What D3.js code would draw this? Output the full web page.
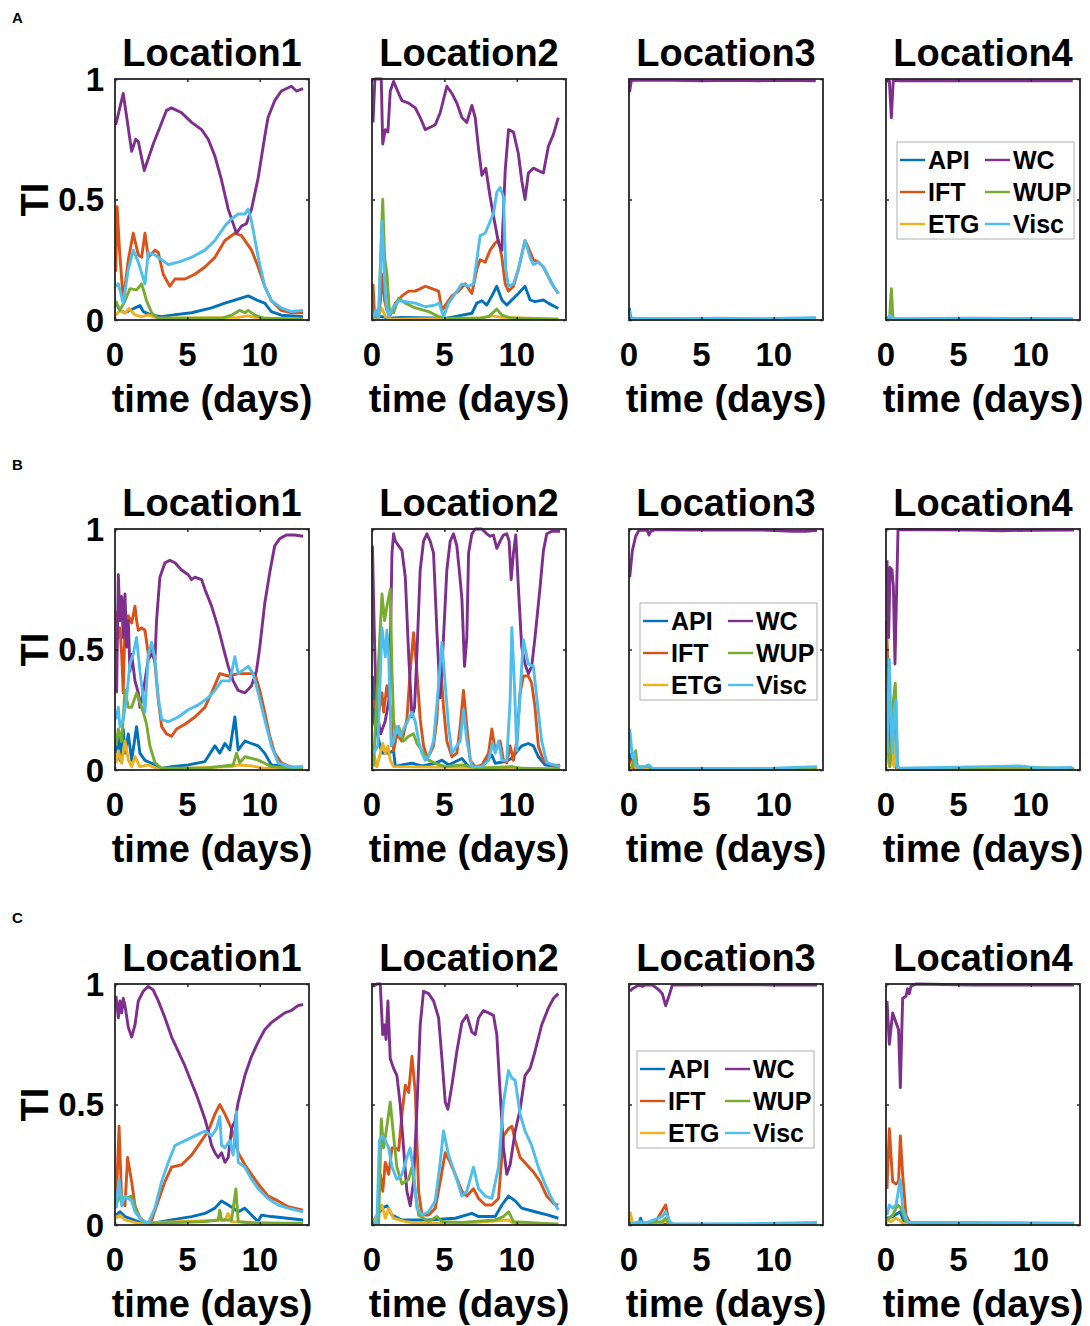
<!DOCTYPE html>
<html>
<head>
<meta charset="utf-8">
<script src="https://cdn.jsdelivr.net/npm/d3@7"></script>
<style>
  html, body { margin: 0; padding: 0; background: #fff; }
  svg { display: block; font-family: "Liberation Sans", Arial, Helvetica, sans-serif; font-weight: bold; }
</style>
</head>
<body>
<svg id="chart" width="1090" height="1326"></svg>
<script>
// ---------- labels / categories ----------
const rowLabels = ["A", "B", "C"];
const locations = ["Location1", "Location2", "Location3", "Location4"];
const seriesNames = ["API", "IFT", "ETG", "WC", "WUP", "Visc"];
const xTicks = [0, 5, 10];
const yTicks = [0, 0.5, 1];
const yTickLabels = ["0", "0.5", "1"];
const xLabel = "time (days)";
const yLabel = "TI";

// ---------- data: [day, TI] ----------
// Row A
const A1_API = [[0.05,0.07],[0.34,0.04],[0.69,0.03],[1.03,0.04],[1.72,0.06],[1.95,0.035],[2.53,0.02],[3.22,0.014],[3.91,0.02],[5.29,0.03],[6.67,0.05],[7.59,0.07],[8.16,0.08],[9.2,0.1],[9.89,0.08],[10.34,0.07],[10.8,0.035],[11.49,0.02],[12.99,0.014]];
const A1_IFT = [[0.05,0.2],[0.15,0.47],[0.3,0.3],[0.57,0.08],[0.92,0.25],[1.26,0.36],[1.61,0.27],[1.84,0.26],[2.07,0.36],[2.3,0.26],[2.76,0.29],[2.99,0.28],[3.33,0.19],[3.79,0.14],[4.14,0.17],[4.83,0.17],[5.52,0.19],[6.21,0.22],[6.9,0.26],[7.59,0.33],[8.28,0.36],[8.74,0.35],[9.43,0.29],[9.89,0.22],[10.34,0.14],[10.8,0.08],[11.49,0.04],[12.18,0.03],[12.99,0.03]];
const A1_ETG = [[0.05,0.02],[0.34,0.04],[0.69,0.028],[0.97,0.048],[1.38,0.021],[1.84,0.014],[2.3,0.021],[2.99,0.007],[8.51,0.011],[9.2,0.017],[9.89,0.007],[12.99,0.003]];
const A1_WC = [[0.05,0.81],[0.57,0.94],[1.15,0.70],[1.43,0.75],[1.61,0.74],[2.02,0.62],[2.3,0.67],[2.64,0.73],[3.1,0.80],[3.56,0.87],[3.9,0.88],[4.6,0.86],[5.29,0.82],[5.98,0.79],[6.44,0.75],[6.9,0.68],[7.36,0.58],[7.82,0.46],[8.16,0.40],[8.39,0.36],[8.74,0.39],[9.08,0.40],[9.43,0.46],[9.89,0.59],[10.34,0.76],[10.57,0.84],[11.03,0.91],[11.49,0.95],[12.18,0.97],[12.53,0.95],[12.99,0.96]];
const A1_WUP = [[0.05,0.08],[0.34,0.04],[0.69,0.08],[1.03,0.13],[1.49,0.125],[1.84,0.15],[2.18,0.08],[2.53,0.03],[2.99,0.007],[7.36,0.007],[8.05,0.02],[8.62,0.04],[8.97,0.03],[9.2,0.04],[9.66,0.02],[10.34,0.007],[12.99,0.003]];
const A1_Visc = [[0.05,0.14],[0.23,0.15],[0.57,0.07],[0.92,0.21],[1.26,0.29],[1.61,0.24],[2.07,0.15],[2.3,0.28],[2.76,0.27],[3.22,0.25],[3.68,0.23],[4.37,0.24],[5.29,0.26],[6.21,0.29],[6.9,0.33],[7.59,0.39],[8.05,0.42],[8.51,0.44],[8.97,0.44],[9.2,0.46],[9.43,0.41],[9.89,0.26],[10.34,0.14],[10.8,0.08],[11.49,0.05],[12.18,0.035],[12.99,0.04]];

const A2_API = [[0.07,0.014],[0.69,0.014],[1.15,0.007],[2.07,0.011],[5.06,0.007],[5.98,0.017],[6.9,0.028],[7.24,0.07],[7.59,0.08],[7.93,0.062],[8.28,0.1],[8.62,0.14],[8.97,0.083],[9.31,0.062],[9.66,0.083],[10.11,0.11],[10.57,0.14],[10.92,0.083],[11.26,0.076],[11.84,0.083],[12.18,0.07],[12.87,0.048]];
const A2_IFT = [[0.07,0.15],[0.18,0.014],[0.34,0.007],[0.57,0.07],[0.74,0.19],[0.87,0.08],[1.03,0.04],[1.26,0.02],[1.61,0.07],[2.07,0.1],[2.53,0.12],[2.99,0.12],[3.68,0.14],[4.14,0.13],[4.6,0.12],[4.83,0.04],[5.17,0.07],[5.52,0.1],[5.98,0.12],[6.44,0.15],[6.9,0.11],[7.24,0.21],[7.47,0.25],[7.82,0.24],[8.16,0.29],[8.51,0.32],[8.74,0.33],[8.97,0.26],[9.2,0.15],[9.43,0.12],[9.77,0.14],[10.11,0.21],[10.57,0.33],[10.8,0.3],[11.15,0.25],[11.49,0.24],[11.84,0.22],[12.18,0.18],[12.53,0.14],[12.87,0.11]];
const A2_ETG = [[0.07,0.014],[0.34,0.007],[0.69,0.048],[0.92,0.014],[1.38,0.003],[7.36,0.007],[8.28,0.017],[8.97,0.011],[12.87,0.003]];
const A2_WC = [[0.07,0.82],[0.2,1.0],[0.64,1.0],[0.74,0.73],[0.92,0.79],[1.1,0.78],[1.26,0.95],[1.49,0.99],[1.84,0.94],[2.07,0.91],[2.53,0.9],[2.99,0.88],[3.33,0.84],[3.68,0.79],[4.02,0.8],[4.37,0.81],[4.71,0.86],[5.17,0.97],[5.52,0.94],[5.86,0.9],[6.21,0.84],[6.55,0.82],[6.9,0.89],[7.13,0.84],[7.36,0.71],[7.59,0.6],[7.86,0.63],[8.16,0.51],[8.46,0.41],[8.74,0.32],[8.97,0.29],[9.2,0.62],[9.43,0.79],[9.77,0.78],[10.11,0.69],[10.34,0.58],[10.57,0.5],[10.8,0.61],[11.15,0.63],[11.49,0.62],[11.84,0.61],[12.18,0.72],[12.53,0.77],[12.87,0.84]];
const A2_WUP = [[0.07,0.014],[0.46,0.014],[0.74,0.5],[0.87,0.26],[1.03,0.19],[1.2,0.04],[1.49,0.03],[1.84,0.09],[2.3,0.07],[2.99,0.05],[3.91,0.035],[4.6,0.014],[5.29,0.007],[7.36,0.007],[8.05,0.014],[8.62,0.045],[8.97,0.02],[9.66,0.007],[12.87,0.003]];
const A2_Visc = [[0.07,0.007],[0.28,0.04],[0.46,0.007],[0.69,0.41],[0.83,0.21],[0.97,0.07],[1.15,0.014],[1.49,0.055],[1.84,0.08],[2.3,0.076],[2.99,0.07],[3.68,0.055],[4.37,0.062],[4.64,0.07],[4.94,0.014],[5.29,0.07],[5.75,0.11],[6.21,0.15],[6.67,0.14],[7.01,0.15],[7.47,0.35],[7.82,0.36],[8.16,0.41],[8.39,0.44],[8.62,0.53],[8.85,0.55],[9.08,0.51],[9.24,0.21],[9.43,0.14],[9.77,0.15],[10.11,0.21],[10.57,0.33],[10.92,0.26],[11.15,0.23],[11.49,0.24],[11.84,0.22],[12.18,0.18],[12.53,0.14],[12.87,0.11]];

const A3_API = [[0.02,0.05],[0.08,0.02],[0.2,0.003],[12.9,0.003]];
const A3_IFT = [[0.02,0.01],[0.2,0.002],[12.9,0.002]];
const A3_ETG = [[0.02,0.005],[12.9,0.002]];
const A3_WC = [[0.02,0.99],[0.05,0.95],[0.15,0.99],[0.3,0.995],[3,0.995],[5,0.993],[7,0.995],[9,0.993],[11,0.995],[12.9,0.993]];
const A3_WUP = [[0.02,0.005],[10,0.002],[12.9,0.008]];
const A3_Visc = [[0.02,0.04],[0.1,0.01],[0.3,0.005],[4,0.005],[6,0.007],[9,0.005],[11,0.007],[12.9,0.01]];

const A4_API = [[0.05,0.003],[0.37,0.01],[0.5,0.002],[12.9,0.002]];
const A4_IFT = [[0.05,0.002],[12.9,0.002]];
const A4_ETG = [[0.05,0.002],[12.9,0.002]];
const A4_WC = [[0.05,0.99],[0.23,0.995],[0.37,0.84],[0.5,0.995],[1,0.993],[12.9,0.993]];
const A4_WUP = [[0.05,0.003],[0.25,0.01],[0.37,0.13],[0.48,0.01],[0.6,0.003],[12.9,0.003]];
const A4_Visc = [[0.05,0.005],[0.3,0.02],[0.45,0.005],[6,0.007],[12.9,0.005]];

// Row B
const B1_API = [[0.07,0.07],[0.23,0.14],[0.34,0.04],[0.57,0.17],[0.69,0.07],[0.92,0.15],[1.15,0.04],[1.49,0.18],[1.72,0.07],[2.07,0.04],[2.53,0.028],[3.22,0.007],[3.91,0.014],[5.06,0.021],[6.21,0.035],[6.9,0.1],[7.24,0.07],[7.59,0.11],[7.93,0.083],[8.28,0.22],[8.51,0.083],[8.97,0.12],[9.43,0.11],[9.89,0.1],[10.34,0.07],[10.8,0.021],[12.99,0.007]];
const B1_IFT = [[0.07,0.66],[0.23,0.55],[0.34,0.59],[0.46,0.48],[0.57,0.32],[0.69,0.62],[0.8,0.58],[0.92,0.64],[1.15,0.61],[1.38,0.68],[1.49,0.62],[1.61,0.58],[1.84,0.59],[2.07,0.58],[2.3,0.48],[2.53,0.51],[2.76,0.44],[2.99,0.29],[3.22,0.18],[3.56,0.15],[3.91,0.14],[4.25,0.17],[4.83,0.19],[5.52,0.22],[6.21,0.26],[6.67,0.32],[7.24,0.4],[7.82,0.39],[8.51,0.4],[9.2,0.4],[9.66,0.4],[10,0.33],[10.34,0.24],[10.69,0.14],[11.03,0.07],[11.49,0.03],[12.18,0.011],[12.99,0.014]];
const B1_ETG = [[0.07,0.028],[0.23,0.08],[0.46,0.028],[0.69,0.12],[0.92,0.041],[1.15,0.014],[1.38,0.055],[1.72,0.014],[2.3,0.021],[2.99,0.003],[8.05,0.014],[8.51,0.021],[9.43,0.017],[10.34,0.007],[12.99,0.003]];
const B1_WC = [[0.11,0.32],[0.23,0.81],[0.34,0.62],[0.46,0.72],[0.57,0.55],[0.69,0.73],[0.8,0.51],[0.92,0.62],[1.03,0.41],[1.15,0.48],[1.38,0.37],[1.61,0.32],[1.72,0.26],[1.84,0.29],[2.07,0.37],[2.3,0.46],[2.53,0.48],[2.76,0.46],[2.87,0.62],[3.1,0.8],[3.45,0.86],[3.79,0.87],[4.14,0.86],[4.6,0.83],[5.06,0.81],[5.29,0.79],[5.52,0.8],[5.98,0.79],[6.21,0.75],[6.67,0.68],[7.13,0.59],[7.47,0.51],[7.82,0.43],[8.16,0.37],[8.51,0.33],[8.97,0.32],[9.43,0.35],[9.77,0.41],[10,0.51],[10.34,0.69],[10.69,0.82],[11.03,0.93],[11.38,0.96],[11.84,0.975],[12.41,0.975],[12.99,0.97]];
const B1_WUP = [[0.07,0.1],[0.23,0.17],[0.46,0.12],[0.69,0.33],[0.92,0.26],[1.15,0.26],[1.49,0.32],[1.72,0.28],[1.95,0.24],[2.18,0.19],[2.41,0.1],[2.76,0.03],[3.22,0.007],[6.21,0.007],[7.13,0.014],[8.16,0.021],[8.39,0.07],[8.62,0.03],[8.97,0.055],[9.43,0.048],[9.89,0.041],[10.34,0.028],[10.8,0.014],[12.99,0.003]];
const B1_Visc = [[0.07,0.21],[0.23,0.26],[0.34,0.18],[0.57,0.21],[0.8,0.3],[1.03,0.44],[1.26,0.48],[1.49,0.55],[1.72,0.41],[2.07,0.24],[2.3,0.48],[2.53,0.53],[2.76,0.46],[2.99,0.3],[3.22,0.21],[3.68,0.2],[4.37,0.22],[5.06,0.25],[5.75,0.27],[6.44,0.3],[6.9,0.33],[7.36,0.37],[7.93,0.37],[8.28,0.47],[8.51,0.4],[9.2,0.43],[9.54,0.4],[9.89,0.32],[10.34,0.21],[10.8,0.1],[11.26,0.03],[12.18,0.011],[12.99,0.014]];

const B2_API = [[0.07,0.39],[0.15,0.2],[0.69,0.07],[1.15,0.07],[1.49,0.08],[1.61,0.014],[2.07,0.021],[2.76,0.028],[3.45,0.017],[4.37,0.028],[4.83,0.041],[5.29,0.021],[6.21,0.048],[6.67,0.014],[7.59,0.014],[8.28,0.062],[8.51,0.028],[9.2,0.035],[9.66,0.048],[10,0.076],[10.34,0.1],[10.8,0.11],[11.15,0.1],[11.49,0.055],[11.95,0.021],[12.99,0.011]];
const B2_IFT = [[0.11,0.29],[0.23,0.26],[0.46,0.24],[0.69,0.32],[0.8,0.24],[1.03,0.35],[1.26,0.26],[1.49,0.08],[1.72,0.15],[2.07,0.12],[2.41,0.21],[2.64,0.41],[2.87,0.57],[3.1,0.41],[3.33,0.21],[3.56,0.1],[3.79,0.055],[4.02,0.07],[4.25,0.1],[4.48,0.21],[4.71,0.46],[4.94,0.26],[5.17,0.12],[5.52,0.055],[5.86,0.07],[6.09,0.18],[6.32,0.33],[6.55,0.18],[6.78,0.04],[7.13,0.014],[7.59,0.02],[8.05,0.07],[8.28,0.17],[8.51,0.08],[8.85,0.12],[9.08,0.04],[9.31,0.03],[9.54,0.1],[9.77,0.04],[10,0.12],[10.23,0.32],[10.46,0.39],[10.8,0.39],[11.03,0.36],[11.26,0.26],[11.49,0.1],[11.84,0.04],[12.41,0.02],[12.99,0.02]];
const B2_ETG = [[0.11,0.07],[0.34,0.014],[0.74,0.11],[0.92,0.07],[1.1,0.1],[1.26,0.041],[1.49,0.014],[6.21,0.011],[9.66,0.007],[12.99,0.003]];
const B2_WC = [[0.03,0.93],[0.15,0.59],[0.3,0.25],[0.6,0.15],[0.9,0.2],[1.2,0.3],[1.38,0.9],[1.49,0.98],[1.61,0.95],[1.84,0.93],[2.07,0.91],[2.3,0.8],[2.53,0.48],[2.76,0.22],[2.94,0.26],[3.1,0.48],[3.33,0.83],[3.56,0.95],[3.79,0.98],[4.02,0.95],[4.25,0.9],[4.48,0.58],[4.71,0.3],[4.94,0.55],[5.17,0.83],[5.4,0.95],[5.63,0.98],[5.86,0.93],[6.09,0.79],[6.21,0.71],[6.39,0.43],[6.55,0.55],[6.67,0.9],[6.9,0.98],[7.13,1.0],[7.59,1.0],[7.93,0.98],[8.16,0.97],[8.39,0.975],[8.62,0.92],[8.85,0.95],[9.08,0.975],[9.31,0.98],[9.47,0.95],[9.61,0.79],[9.77,0.9],[9.93,0.975],[10.11,0.76],[10.34,0.51],[10.57,0.44],[10.8,0.4],[11.03,0.43],[11.26,0.55],[11.61,0.76],[11.84,0.91],[12.07,0.98],[12.41,0.99],[12.99,0.99]];
const B2_WUP = [[0.11,0.014],[0.23,0.18],[0.69,0.73],[0.87,0.62],[1.03,0.68],[1.26,0.75],[1.38,0.41],[1.49,0.21],[1.61,0.15],[1.84,0.18],[2.18,0.12],[2.53,0.14],[2.87,0.15],[3.1,0.11],[3.45,0.08],[3.91,0.041],[4.37,0.028],[5.06,0.014],[6.21,0.021],[7.36,0.007],[9.66,0.014],[10.34,0.007],[12.99,0.003]];
const B2_Visc = [[0.11,0.07],[0.4,0.1],[0.69,0.59],[0.92,0.47],[1.03,0.58],[1.15,0.48],[1.33,0.1],[1.49,0.12],[1.72,0.18],[1.95,0.14],[2.18,0.17],[2.53,0.21],[2.76,0.24],[2.99,0.2],[3.22,0.12],[3.45,0.07],[3.68,0.04],[3.91,0.055],[4.25,0.12],[4.6,0.35],[4.83,0.53],[5.01,0.39],[5.29,0.18],[5.52,0.07],[5.86,0.1],[6.09,0.12],[6.32,0.25],[6.55,0.12],[6.9,0.014],[7.59,0.014],[8.05,0.04],[8.32,0.11],[8.51,0.07],[8.74,0.12],[8.97,0.04],[9.31,0.04],[9.54,0.29],[9.66,0.59],[9.84,0.35],[10,0.08],[10.23,0.32],[10.46,0.54],[10.8,0.44],[11.15,0.43],[11.38,0.3],[11.72,0.12],[12.07,0.03],[12.99,0.014]];

const B3_API = [[0.05,0.07],[0.23,0.014],[0.5,0.003],[12.99,0.002]];
const B3_IFT = [[0.05,0.04],[0.34,0.007],[12.99,0.002]];
const B3_ETG = [[0.05,0.01],[0.34,0.041],[0.46,0.007],[12.99,0.002]];
const B3_WC = [[0.05,0.8],[0.23,0.91],[0.46,0.97],[0.69,0.995],[1.26,0.995],[1.38,0.975],[1.49,0.99],[1.84,0.997],[5,0.996],[9,0.996],[10.5,0.993],[11.26,0.99],[12.2,0.99],[12.99,0.995]];
const B3_WUP = [[0.05,0.01],[0.23,0.014],[0.46,0.08],[0.57,0.014],[1.38,0.014],[1.6,0.003],[12.99,0.005]];
const B3_Visc = [[0.05,0.17],[0.23,0.055],[0.34,0.07],[0.46,0.021],[0.69,0.007],[1.38,0.021],[1.61,0.007],[5,0.005],[10,0.007],[11,0.01],[12.99,0.014]];

const B4_API = [[0.07,0.041],[0.23,0.152],[0.34,0.07],[0.57,0.18],[0.74,0.014],[1,0.002],[12.99,0.002]];
const B4_IFT = [[0.02,0.62],[0.12,0.45],[0.25,0.05],[0.4,0.2],[0.55,0.02],[0.8,0.003],[12.99,0.002]];
const B4_ETG = [[0.07,0.07],[0.23,0.014],[0.41,0.07],[0.57,0.014],[0.69,0.15],[0.8,0.007],[12.99,0.002]];
const B4_WC = [[0.07,0.87],[0.18,0.55],[0.28,0.84],[0.41,0.83],[0.51,0.76],[0.62,0.44],[0.74,0.76],[0.83,0.996],[1.15,0.998],[6,0.996],[8,0.993],[10,0.995],[12.99,0.996]];
const B4_WUP = [[0.07,0.12],[0.28,0.014],[0.46,0.26],[0.64,0.36],[0.8,0.014],[1,0.003],[8,0.011],[10,0.011],[12.99,0.005]];
const B4_Visc = [[0.07,0.07],[0.23,0.46],[0.34,0.21],[0.46,0.07],[0.57,0.26],[0.69,0.29],[0.8,0.014],[0.92,0.007],[7,0.014],[9.2,0.017],[10.8,0.007],[12.87,0.011]];

// Row C
const C1_API = [[0.07,0.041],[0.34,0.055],[0.69,0.035],[1.61,0.014],[2.53,0.007],[3.91,0.021],[5.29,0.035],[6.21,0.048],[6.9,0.07],[7.36,0.1],[7.82,0.083],[8.16,0.07],[8.51,0.055],[8.97,0.07],[9.43,0.041],[9.89,0.014],[10.11,0.041],[10.8,0.035],[12.99,0.021]];
const C1_IFT = [[0.07,0.07],[0.28,0.41],[0.46,0.1],[0.69,0.08],[0.87,0.28],[1.15,0.18],[1.38,0.08],[1.72,0.03],[2.18,0.007],[2.53,0.02],[2.99,0.1],[3.45,0.18],[3.91,0.24],[4.6,0.25],[5.29,0.29],[5.98,0.35],[6.44,0.39],[6.9,0.46],[7.24,0.5],[7.59,0.46],[8.05,0.4],[8.51,0.3],[8.97,0.25],[9.43,0.21],[9.89,0.17],[10.57,0.12],[11.26,0.1],[11.95,0.076],[12.99,0.062]];
const C1_ETG = [[0.07,0.028],[0.34,0.041],[0.69,0.021],[1.61,0.007],[7.59,0.021],[7.82,0.048],[8.05,0.014],[12.99,0.003]];
const C1_WC = [[0.07,0.95],[0.23,0.86],[0.34,0.93],[0.46,0.88],[0.57,0.94],[0.69,0.91],[0.92,0.82],[1.15,0.78],[1.38,0.83],[1.61,0.93],[1.95,0.97],[2.3,0.99],[2.64,0.975],[2.99,0.93],[3.45,0.86],[3.91,0.78],[4.37,0.72],[4.83,0.66],[5.29,0.59],[5.63,0.54],[5.98,0.48],[6.21,0.44],[6.44,0.39],[6.67,0.33],[6.9,0.3],[7.13,0.28],[7.36,0.3],[7.59,0.26],[7.82,0.28],[8.05,0.4],[8.28,0.43],[8.51,0.51],[8.97,0.62],[9.43,0.7],[9.89,0.76],[10.34,0.81],[10.8,0.84],[11.26,0.86],[11.72,0.88],[12.18,0.89],[12.64,0.91],[12.99,0.915]];
const C1_WUP = [[0.07,0.083],[0.34,0.12],[0.69,0.11],[1.15,0.12],[1.49,0.055],[1.84,0.014],[2.76,0.007],[6.21,0.014],[7.13,0.021],[7.24,0.062],[7.36,0.021],[8.05,0.021],[8.35,0.15],[8.51,0.014],[9.66,0.007],[12.99,0.007]];
const C1_Visc = [[0.07,0.07],[0.28,0.19],[0.46,0.08],[0.69,0.12],[0.92,0.11],[1.15,0.1],[1.38,0.055],[1.84,0.02],[2.3,0.007],[2.76,0.07],[3.22,0.18],[3.68,0.26],[4.14,0.33],[4.83,0.35],[5.52,0.37],[6.21,0.39],[6.67,0.37],[7.01,0.4],[7.24,0.45],[7.36,0.33],[7.59,0.32],[7.93,0.35],[8.16,0.29],[8.39,0.47],[8.51,0.26],[8.97,0.24],[9.43,0.19],[9.89,0.15],[10.57,0.11],[11.26,0.083],[11.95,0.07],[12.99,0.055]];

const C2_API = [[0.07,0.014],[0.69,0.07],[1.03,0.08],[1.38,0.041],[2.07,0.021],[3.91,0.021],[5.75,0.028],[6.9,0.048],[7.36,0.035],[8.51,0.035],[8.97,0.083],[9.43,0.12],[9.89,0.1],[10.34,0.07],[11.26,0.055],[12.18,0.041],[12.87,0.028]];
const C2_IFT = [[0.07,0.007],[0.34,0.007],[0.57,0.21],[0.74,0.14],[0.92,0.26],[1.15,0.21],[1.38,0.32],[1.61,0.32],[1.84,0.31],[2.07,0.46],[2.3,0.58],[2.53,0.55],[2.76,0.7],[2.99,0.55],[3.22,0.14],[3.45,0.041],[3.91,0.041],[4.37,0.07],[4.71,0.18],[5.06,0.3],[5.4,0.26],[5.75,0.21],[6.21,0.14],[6.55,0.12],[7.01,0.15],[7.36,0.11],[7.82,0.083],[8.28,0.083],[8.74,0.11],[9.08,0.37],[9.43,0.4],[9.66,0.41],[9.89,0.35],[10.23,0.28],[10.69,0.25],[11.15,0.22],[11.61,0.18],[12.07,0.12],[12.53,0.09],[12.87,0.083]];
const C2_ETG = [[0.07,0.007],[0.69,0.083],[0.92,0.028],[1.15,0.07],[1.49,0.028],[2.3,0.014],[3.22,0.007],[6.21,0.007],[9.43,0.021],[9.8,0.005],[12.87,0.003]];
const C2_WC = [[0.07,0.99],[0.34,1.0],[0.57,1.0],[0.74,0.79],[0.87,0.83],[0.97,0.77],[1.1,0.93],[1.26,0.69],[1.49,0.65],[1.72,0.62],[1.95,0.5],[2.18,0.32],[2.41,0.14],[2.64,0.08],[2.87,0.18],[3.1,0.48],[3.33,0.83],[3.56,0.97],[3.91,0.96],[4.25,0.93],[4.6,0.86],[4.83,0.69],[5.06,0.51],[5.24,0.48],[5.52,0.58],[5.86,0.72],[6.21,0.84],[6.55,0.87],[6.9,0.8],[7.13,0.79],[7.36,0.86],[7.7,0.89],[8.05,0.88],[8.39,0.87],[8.62,0.79],[8.85,0.55],[9.08,0.32],[9.31,0.21],[9.54,0.25],[9.89,0.39],[10.23,0.48],[10.57,0.62],[10.92,0.65],[11.26,0.72],[11.72,0.83],[12.18,0.9],[12.53,0.94],[12.87,0.96]];
const C2_WUP = [[0.07,0.007],[0.46,0.007],[0.64,0.44],[0.8,0.32],[1.03,0.41],[1.26,0.51],[1.49,0.37],[1.72,0.24],[2.07,0.17],[2.53,0.19],[2.76,0.24],[2.99,0.14],[3.22,0.041],[3.91,0.014],[4.48,0.035],[4.83,0.014],[6.21,0.011],[8.51,0.021],[9.08,0.035],[9.43,0.055],[9.77,0.014],[12.87,0.003]];
const C2_Visc = [[0.07,0.014],[0.34,0.007],[0.51,0.35],[0.69,0.37],[0.92,0.35],[1.15,0.32],[1.38,0.24],[1.72,0.19],[2.07,0.21],[2.41,0.28],[2.64,0.32],[2.87,0.22],[3.1,0.07],[3.45,0.041],[3.91,0.055],[4.37,0.1],[4.71,0.26],[4.94,0.39],[5.29,0.29],[5.75,0.21],[6.21,0.12],[6.55,0.14],[7.01,0.24],[7.36,0.15],[7.82,0.12],[8.28,0.11],[8.74,0.24],[9.08,0.51],[9.43,0.64],[9.66,0.61],[9.89,0.6],[10.23,0.46],[10.57,0.39],[11.03,0.33],[11.49,0.24],[11.95,0.17],[12.41,0.11],[12.87,0.062]];

const C3_API = [[0.05,0.003],[0.69,0.003],[0.8,0.028],[0.92,0.003],[12.99,0.002]];
const C3_IFT = [[0.05,0.003],[1.84,0.014],[2.18,0.048],[2.53,0.083],[2.76,0.014],[3,0.003],[12.99,0.002]];
const C3_ETG = [[0.05,0.003],[0.1,0.05],[0.23,0.007],[2.3,0.01],[2.53,0.02],[2.8,0.003],[12.99,0.002]];
const C3_WC = [[0.07,0.97],[0.23,0.98],[0.69,0.996],[0.92,0.99],[1.15,0.997],[1.61,0.996],[2.07,0.975],[2.3,0.96],[2.53,0.91],[2.76,0.95],[2.99,0.996],[6,0.997],[10,0.996],[12.99,0.996]];
const C3_WUP = [[0.05,0.003],[2.3,0.014],[2.53,0.028],[2.8,0.003],[12.99,0.002]];
const C3_Visc = [[0.05,0.003],[0.8,0.014],[0.92,0.003],[2.3,0.035],[2.53,0.055],[2.87,0.007],[3.2,0.004],[8,0.005],[11,0.008],[12.99,0.011]];

const C4_API = [[0.07,0.028],[0.46,0.035],[0.99,0.055],[1.26,0.007],[12.99,0.002]];
const C4_IFT = [[0.07,0.15],[0.23,0.4],[0.46,0.18],[0.69,0.17],[0.87,0.18],[0.99,0.37],[1.15,0.21],[1.38,0.04],[1.61,0.014],[2.07,0.003],[12.99,0.002]];
const C4_ETG = [[0.07,0.021],[0.34,0.014],[0.69,0.028],[0.92,0.021],[1.15,0.007],[12.99,0.002]];
const C4_WC = [[0.07,0.93],[0.23,0.75],[0.46,0.88],[0.69,0.84],[0.87,0.81],[0.99,0.57],[1.15,0.94],[1.38,0.95],[1.49,0.98],[1.61,0.96],[1.72,0.99],[2.07,1.0],[6,0.996],[12.99,0.996]];
const C4_WUP = [[0.07,0.021],[0.46,0.041],[0.8,0.083],[1.03,0.07],[1.38,0.014],[2.07,0.003],[12.99,0.002]];
const C4_Visc = [[0.07,0.041],[0.23,0.083],[0.46,0.07],[0.69,0.083],[0.99,0.19],[1.15,0.07],[1.49,0.011],[6,0.011],[12.99,0.007]];

const panelData = {
  A1: {API:A1_API, IFT:A1_IFT, ETG:A1_ETG, WC:A1_WC, WUP:A1_WUP, Visc:A1_Visc},
  A2: {API:A2_API, IFT:A2_IFT, ETG:A2_ETG, WC:A2_WC, WUP:A2_WUP, Visc:A2_Visc},
  A3: {API:A3_API, IFT:A3_IFT, ETG:A3_ETG, WC:A3_WC, WUP:A3_WUP, Visc:A3_Visc},
  A4: {API:A4_API, IFT:A4_IFT, ETG:A4_ETG, WC:A4_WC, WUP:A4_WUP, Visc:A4_Visc},
  B1: {API:B1_API, IFT:B1_IFT, ETG:B1_ETG, WC:B1_WC, WUP:B1_WUP, Visc:B1_Visc},
  B2: {API:B2_API, IFT:B2_IFT, ETG:B2_ETG, WC:B2_WC, WUP:B2_WUP, Visc:B2_Visc},
  B3: {API:B3_API, IFT:B3_IFT, ETG:B3_ETG, WC:B3_WC, WUP:B3_WUP, Visc:B3_Visc},
  B4: {API:B4_API, IFT:B4_IFT, ETG:B4_ETG, WC:B4_WC, WUP:B4_WUP, Visc:B4_Visc},
  C1: {API:C1_API, IFT:C1_IFT, ETG:C1_ETG, WC:C1_WC, WUP:C1_WUP, Visc:C1_Visc},
  C2: {API:C2_API, IFT:C2_IFT, ETG:C2_ETG, WC:C2_WC, WUP:C2_WUP, Visc:C2_Visc},
  C3: {API:C3_API, IFT:C3_IFT, ETG:C3_ETG, WC:C3_WC, WUP:C3_WUP, Visc:C3_Visc},
  C4: {API:C4_API, IFT:C4_IFT, ETG:C4_ETG, WC:C4_WC, WUP:C4_WUP, Visc:C4_Visc}
};
// which panel holds the legend in each row (column index)
const legendColumn = {A: 3, B: 2, C: 2};

// ---------- styling / layout ----------
const colors = {API:"#0072BD", IFT:"#D95319", ETG:"#EDB120", WC:"#7E2F8E", WUP:"#77AC30", Visc:"#4DBEEE"};
const rowTop = [79, 529, 984];
const rowLetterY = [23, 470, 923];
const colLeft = [115, 372, 629, 886];
const W = 194, H = 241;
const legendOffset = {A: [11, 63], B: [11, 74], C: [8, 67]};

const svg = d3.select("#chart");
const x = d3.scaleLinear().domain([0, 13.4]).range([0, W]);
const y = d3.scaleLinear().domain([0, 1]).range([H, 0]);
const line = d3.line().x(d => x(d[0])).y(d => y(d[1]));
const axisColor = "#262626";

rowLabels.forEach((rl, r) => {
  svg.append("text").attr("x", 12).attr("y", rowLetterY[r])
    .attr("font-size", 15).attr("fill", "#000").text(rl);

  locations.forEach((loc, c) => {
    const g = svg.append("g").attr("transform", `translate(${colLeft[c]},${rowTop[r]})`);
    const data = panelData[rl + (c + 1)];

    // data lines
    seriesNames.forEach(s => {
      g.append("path").datum(data[s]).attr("d", line)
        .attr("fill", "none").attr("stroke", colors[s])
        .attr("stroke-width", 2.9).attr("stroke-linejoin", "round");
    });

    // box
    g.append("rect").attr("x", 0).attr("y", 0).attr("width", W).attr("height", H)
      .attr("fill", "none").attr("stroke", axisColor).attr("stroke-width", 1.8);

    // axes ticks (inward, MATLAB style) via d3 axes
    const xb = g.append("g").attr("transform", `translate(0,${H})`)
      .call(d3.axisBottom(x).tickValues(xTicks).tickSizeInner(-3).tickSizeOuter(0).tickFormat(""));
    const xt = g.append("g")
      .call(d3.axisTop(x).tickValues(xTicks).tickSizeInner(-3).tickSizeOuter(0).tickFormat(""));
    const yl = g.append("g")
      .call(d3.axisLeft(y).tickValues(yTicks).tickSizeInner(-3).tickSizeOuter(0).tickFormat(""));
    const yr = g.append("g").attr("transform", `translate(${W},0)`)
      .call(d3.axisRight(y).tickValues(yTicks).tickSizeInner(-3).tickSizeOuter(0).tickFormat(""));
    [xb, xt, yl, yr].forEach(a => {
      a.select(".domain").remove();
      a.selectAll(".tick line").attr("stroke", axisColor).attr("stroke-width", 1.5);
    });

    // x tick labels
    xTicks.forEach(t => {
      g.append("text").attr("x", x(t)).attr("y", 287)
        .attr("text-anchor", "middle").attr("font-size", 33).attr("fill", "#000").text(String(t));
    });
    // y tick labels (first column only)
    if (c === 0) {
      yTicks.forEach((t, i) => {
        g.append("text").attr("x", -11).attr("y", y(t)).attr("dy", "0.36em")
          .attr("text-anchor", "end").attr("font-size", 33).attr("fill", "#000").text(yTickLabels[i]);
      });
      g.append("text").attr("transform", `translate(${48 - colLeft[0]},${H / 2}) rotate(-90)`)
        .attr("text-anchor", "middle").attr("font-size", 38).attr("fill", "#000").text(yLabel);
    }
    // title
    g.append("text").attr("x", W / 2).attr("y", -13).attr("text-anchor", "middle")
      .attr("font-size", 38).attr("fill", "#000").text(loc);
    // x label
    g.append("text").attr("x", W / 2).attr("y", 333).attr("text-anchor", "middle")
      .attr("font-size", 38).attr("fill", "#000").text(xLabel);

    // legend
    if (legendColumn[rl] === c) {
      const [lx, ly] = legendOffset[rl];
      const lg = g.append("g").attr("transform", `translate(${lx},${ly})`);
      lg.append("rect").attr("width", 177).attr("height", 97)
        .attr("fill", "#fff").attr("stroke", "#b0b0b0").attr("stroke-width", 1);
      seriesNames.forEach((s, i) => {
        const col = Math.floor(i / 3), row = i % 3;
        const ox = col === 0 ? 3 : 88;
        const oy = 18 + row * 32;
        lg.append("line").attr("x1", ox).attr("x2", ox + 25).attr("y1", oy).attr("y2", oy)
          .attr("stroke", colors[s]).attr("stroke-width", 2.4);
        lg.append("text").attr("x", ox + 28).attr("y", oy).attr("dy", "0.36em")
          .attr("font-size", 25).attr("fill", "#000").text(s);
      });
    }
  });
});
</script>
</body>
</html>
